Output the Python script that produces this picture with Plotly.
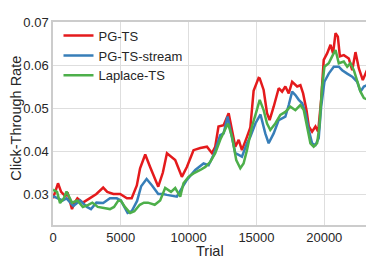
import plotly.graph_objects as go

# PG-TS (red)
pg_x = [0, 200, 370, 600, 900, 1100, 1400, 1600, 1800, 2200, 2500, 2700, 3200, 3700, 4000, 4450, 4950,
        5450, 5800, 6180, 6420, 6800, 7160, 7450, 7760, 8100, 8400, 9010, 9500, 9870, 10360, 10860,
        11350, 11720, 11960, 12200, 12580, 12950, 13200, 13440, 13690, 13930, 14300, 14550, 14790,
        15160, 15240, 15530, 15780, 15970, 16270, 16640, 16890, 17130, 17380, 17630, 18000, 18240,
        18440, 18690, 18860, 19100, 19350, 19550, 19770, 19960, 20210, 20460, 20650, 20830, 21000,
        21150, 21440, 21810, 22060, 22300, 22550, 22840, 23150]
pg_y = [0.029, 0.031, 0.0325, 0.0305, 0.0295, 0.030, 0.0265, 0.028, 0.029, 0.028, 0.0285, 0.029, 0.030,
        0.0315, 0.0305, 0.030, 0.030, 0.029, 0.029, 0.032, 0.036, 0.0392, 0.0363, 0.034, 0.0317, 0.035,
        0.0395, 0.0379, 0.034, 0.0363, 0.0402, 0.0407, 0.041, 0.0395, 0.041, 0.0457, 0.046, 0.0488,
        0.0445, 0.041, 0.0426, 0.0402, 0.0433, 0.0455, 0.054, 0.057, 0.0569, 0.0542, 0.0488, 0.0472,
        0.0503, 0.0546, 0.0538, 0.055, 0.0534, 0.0561, 0.055, 0.0553, 0.0534, 0.0495, 0.0457, 0.0445,
        0.0457, 0.0445, 0.0519, 0.0612, 0.0627, 0.0647, 0.0627, 0.0674, 0.0666, 0.062, 0.0623, 0.0615,
        0.0588, 0.063, 0.0592, 0.0565, 0.0588]

# PG-TS-stream (blue)
st_x = [0, 300, 700, 1000, 1500, 2000, 2500, 2800, 3200, 3700, 4200, 4700, 5000, 5500, 5800, 6200, 6500,
        6900, 7300, 7760, 8100, 8400, 9130, 9500, 9870, 10490, 11100, 11470, 11840, 12330, 12580, 12870,
        13120, 13440, 13690, 13930, 14300, 14550, 14920, 15300, 15650, 15900, 16270, 16640, 16890, 17130,
        17380, 17630, 17870, 18120, 18370, 18610, 18860, 19100, 19350, 19590, 19770, 20010, 20330, 20700,
        21070, 21320, 21690, 22060, 22430, 22670, 22920, 23150]
st_y = [0.0295, 0.029, 0.0285, 0.029, 0.0272, 0.0285, 0.027, 0.0265, 0.028, 0.0279, 0.029, 0.029, 0.0285,
        0.0256, 0.026, 0.0284, 0.0318, 0.0335, 0.032, 0.030, 0.030, 0.0298, 0.0294, 0.0314, 0.0333, 0.0356,
        0.0371, 0.0367, 0.0391, 0.0437, 0.0441, 0.048, 0.0441, 0.0395, 0.0391, 0.0387, 0.0418, 0.0433,
        0.0464, 0.0485, 0.0441, 0.0418, 0.0441, 0.0472, 0.0476, 0.048, 0.0507, 0.0538, 0.053, 0.0519,
        0.0511, 0.0488, 0.0449, 0.0418, 0.0414, 0.043, 0.0503, 0.0561, 0.058, 0.0596, 0.0596, 0.0588,
        0.058, 0.0573, 0.0561, 0.0538, 0.055, 0.0553]

# Laplace-TS (green)
lp_x = [0, 300, 520, 800, 1000, 1400, 1800, 2200, 2600, 2900, 3300, 3800, 4200, 4500, 4800, 5000, 5300,
        5690, 6000, 6400, 6700, 7000, 7500, 7900, 8270, 8700, 9010, 9380, 9620, 9990, 10360, 10860, 11230,
        11600, 11960, 12330, 12700, 12900, 13200, 13510, 13810, 14050, 14300, 14670, 14990, 15240, 15530,
        15780, 16020, 16390, 16760, 17130, 17500, 17870, 18240, 18490, 18730, 18980, 19220, 19470, 19640,
        19840, 20010, 20330, 20580, 20830, 21070, 21440, 21690, 21930, 22180, 22430, 22670, 22920, 23150]
lp_y = [0.031, 0.0305, 0.0279, 0.029, 0.0306, 0.028, 0.0285, 0.027, 0.0275, 0.028, 0.027, 0.0268, 0.0265,
        0.027, 0.0284, 0.0285, 0.027, 0.0256, 0.026, 0.0275, 0.028, 0.028, 0.0275, 0.0285, 0.0314, 0.0305,
        0.0314, 0.0294, 0.0325, 0.034, 0.0348, 0.0356, 0.0363, 0.0375, 0.0395, 0.0426, 0.0453, 0.0464,
        0.0433, 0.0379, 0.036, 0.0371, 0.0402, 0.0457, 0.0491, 0.0519, 0.0495, 0.0464, 0.0449, 0.0464,
        0.0484, 0.0491, 0.0503, 0.0495, 0.0507, 0.0495, 0.0457, 0.0418, 0.041, 0.0418, 0.0457, 0.055,
        0.0596, 0.0604, 0.062, 0.0635, 0.0604, 0.0608, 0.0596, 0.0604, 0.0588, 0.0565, 0.0538, 0.0523, 0.052]

x_ticks = [0, 5000, 10000, 15000, 20000]
y_ticks = [0.03, 0.04, 0.05, 0.06, 0.07]
y_tick_labels = ["0.03", "0.04", "0.05", "0.06", "0.07"]

FONT = "Liberation Sans, Arial, sans-serif"
TXT = "#262626"

fig = go.Figure()
for name, xs, ys, col in [("PG-TS", pg_x, pg_y, "#e41a1c"),
                          ("PG-TS-stream", st_x, st_y, "#377eb8"),
                          ("Laplace-TS", lp_x, lp_y, "#4daf4a")]:
    fig.add_trace(go.Scatter(x=xs, y=ys, mode="lines", name=name,
                             line=dict(color=col, width=2.5)))

# page body adds an 8px offset, so margins are reduced accordingly
fig.update_layout(
    width=374, height=266,
    margin=dict(l=45, r=15, t=14, b=49),
    paper_bgcolor="white", plot_bgcolor="white",
    font=dict(family=FONT, size=13, color=TXT),
    showlegend=True,
    legend=dict(x=0.0175, y=1.007, xanchor="left", yanchor="top",
                bgcolor="rgba(0,0,0,0)", borderwidth=0,
                font=dict(size=13, color=TXT), tracegroupgap=0),
    xaxis=dict(range=[0, 23150], tickvals=x_ticks, ticktext=[str(v) for v in x_ticks],
               automargin=False,
               showgrid=True, gridcolor="#dedede", gridwidth=1,
               showline=True, linecolor="#cccccc", linewidth=1.5, mirror=True,
               zeroline=False, ticks="", tickfont=dict(size=13, color=TXT)),
    yaxis=dict(range=[0.0228, 0.07], tickvals=y_ticks, ticktext=y_tick_labels,
               automargin=False,
               showgrid=True, gridcolor="#dedede", gridwidth=1,
               showline=True, linecolor="#cccccc", linewidth=1.5, mirror=True,
               zeroline=False, ticks="", tickfont=dict(size=13, color=TXT)),
    annotations=[
        dict(text="Trial", xref="paper", yref="paper", x=0.5, y=-0.128,
             xanchor="center", yanchor="middle", showarrow=False,
             font=dict(size=14.5, color=TXT, family=FONT)),
        dict(text="Click-Through Rate", xref="paper", yref="paper", x=-0.119, y=0.527,
             xanchor="center", yanchor="middle", showarrow=False, textangle=-90,
             font=dict(size=14.5, color=TXT, family=FONT)),
    ],
)

fig.write_html("out.html")
